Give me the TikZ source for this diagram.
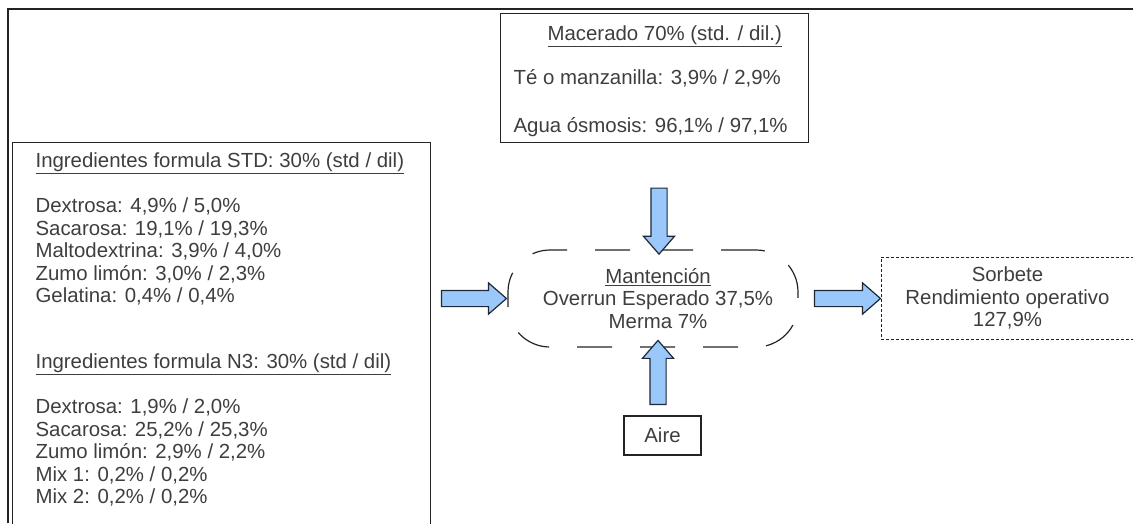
\documentclass[tikz,border=0pt]{standalone}
\usepackage{fontspec}
\setmainfont{Liberation Sans}
\usetikzlibrary{shapes.arrows, positioning}
\definecolor{mtext}{RGB}{62,62,62}
\definecolor{mline}{RGB}{35,35,35}
\definecolor{mblue}{RGB}{155,200,250}
\definecolor{mnavy}{RGB}{30,40,55}

\begin{document}
\begin{tikzpicture}[x=1pt, y=-1pt,
  every node/.style={font=\fontsize{20.4}{22.5}\selectfont, text=mtext},
  listbox/.style={draw=mline, line width=1.2pt, inner sep=0pt, anchor=north west},
  procbox/.style={draw=mline, line width=1.2pt, rounded corners=42pt,
                  dash pattern=on 35pt off 28pt, minimum width=290pt,
                  minimum height=97pt, align=center},
  outbox/.style={draw=mline, line width=1pt, dash pattern=on 3pt off 2pt,
                 minimum width=253pt, minimum height=82pt, align=center},
  inbox/.style={draw=mline, line width=1.2pt, minimum width=77pt, minimum height=39pt},
  fatarrow/.style={single arrow, draw=mnavy, fill=mblue, line width=1.2pt,
                   inner sep=7.5pt, minimum width=30pt,
                   single arrow head extend=7.5pt, single arrow tip angle=82,
                   single arrow head indent=0pt, sloped, allow upside down},
]
\clip (0,0) rectangle (1133,523);

% frame
\draw[mline, line width=1.5pt] (8,523) -- (8,9) -- (1133,9);

% Ingredients
\node[listbox, text height=25pt, text depth=400pt] (ing) at (12,142)
  {\hspace*{23pt}\parbox[t]{395pt}{\raggedright
   \underline{Ingredientes formula STD: 30\% (std / dil)}\\[22.5pt]
   Dextrosa: 4,9\% / 5,0\%\\
   Sacarosa: 19,1\% / 19,3\%\\
   Maltodextrina: 3,9\% / 4,0\%\\
   Zumo limón: 3,0\% / 2,3\%\\
   Gelatina: 0,4\% / 0,4\%\\[43.5pt]
   \underline{Ingredientes formula N3: 30\% (std / dil)}\\[22.5pt]
   Dextrosa: 1,9\% / 2,0\%\\
   Sacarosa: 25,2\% / 25,3\%\\
   Zumo limón: 2,9\% / 2,2\%\\
   Mix 1: 0,2\% / 0,2\%\\
   Mix 2: 0,2\% / 0,2\%}};

\node[listbox, text height=27pt, text depth=102pt] (mac) at (500,13)
  {\hspace*{13pt}\parbox[t]{295pt}{\raggedright
   \hspace*{34pt}\underline{Macerado 70\% (std. / dil.)}\\[21.5pt]
   Té o manzanilla: 3,9\% / 2,9\%\\[25.5pt]
   Agua ósmosis: 96,1\% / 97,1\%}};

% Process and outputs
\node[procbox] (mant) at (653,298.5)
  {\hspace*{10pt}\underline{Mantención}\\ \hspace*{10pt}Overrun Esperado 37,5\%\\ \hspace*{10pt}Merma 7\%};
\node[outbox] (sorb) at (1007.5,298) {Sorbete\\ Rendimiento operativo\\ 127,9\%};
\node[inbox] (aire) at (662.5,435.5) {Aire};

\coordinate (mtop) at ([xshift=6pt]mant.north);
\coordinate (mbot) at ([xshift=5pt]mant.south);

% Flows
\path (ing.east |- mant.west) -- node[fatarrow, minimum height=65pt] {} (mant.west);
\path (mtop |- mac.south) -- node[fatarrow, pos=0.69, minimum height=66pt] {} (mtop);
\path (mbot |- aire.north) -- node[fatarrow, pos=0.565, minimum height=64pt] {} (mbot);
\path (mant.east) -- node[fatarrow, pos=0.54, minimum height=66pt] {} (sorb.west |- mant.east);

\end{tikzpicture}
\end{document}
